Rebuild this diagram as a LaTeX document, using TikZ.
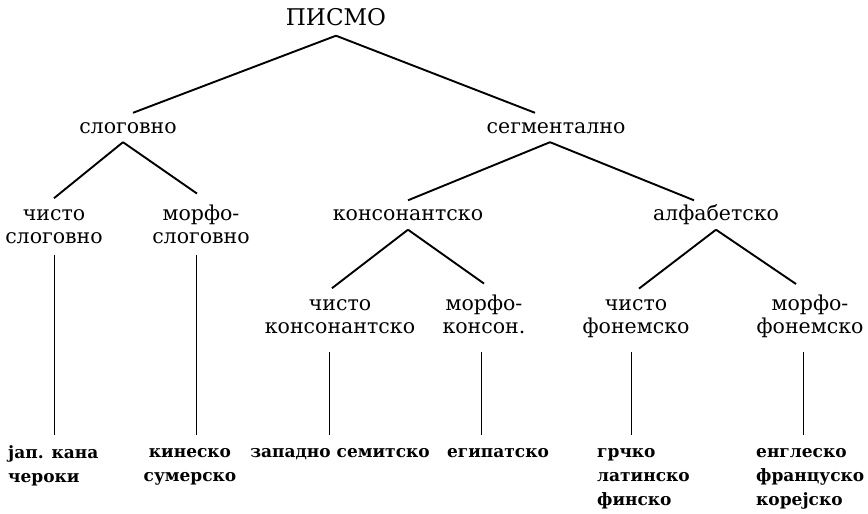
\documentclass[tikz,border=0pt]{standalone}
\usepackage{fontspec}
\setmainfont{DejaVu Serif}
\usepackage{tikz}
\usetikzlibrary{positioning}
\tikzstyle{root} = [inner sep=0pt, inner ysep=10pt, text height=17pt, text depth=0pt, font=\fontsize{23}{27}\selectfont]
\tikzstyle{word} = [inner sep=0pt, inner ysep=9pt, text height=11pt, text depth=0pt, font=\fontsize{20.5}{23}\selectfont]
\tikzstyle{pair} = [inner sep=0pt, inner ysep=11pt, align=center, font=\fontsize{20.5}{23}\selectfont]
\tikzstyle{leaf} = [inner sep=0pt, align=left, font=\fontsize{17}{24}\selectfont\bfseries]
\tikzstyle{branch} = [line width=1.9pt]
\tikzstyle{stem} = [line width=0.8pt, shorten >=13pt]

\begin{document}
\begin{tikzpicture}[x=1pt, y=-1pt]
\useasboundingbox (0,0) rectangle (868,514);
% Tree nodes
\node (pismo) [root] at (336,17) {ПИСМО};
\node (slog) [word] at (128,127.5) {слоговно};
\node (segm) [word] at (556,127.5) {сегментално};
\node (cslog) [pair] at (54,226.5) {чисто\\слоговно};
\node (mslog) [pair] at (201,224.2) {морфо-\\слоговно};
\node (kons) [word] at (408,215) {консонантско};
\node (alf) [word] at (716,215) {алфабетско};
\node (ckons) [pair] at (340,316.5) {чисто\\консонантско};
\node (mkons) [pair] at (484,314.2) {морфо-\\консон.};
\node (cfon) [pair] at (636,318.9) {чисто\\фонемско};
\node (mfon) [pair] at (810,316.6) {морфо-\\фонемско};

% Leaves
\node (kana) [leaf, anchor=north west] at (8,445) {јап. кана\\чероки};
\node (kin) [leaf, align=center, anchor=north] at (190,448) {кинеско\\сумерско};
\node (west) [leaf, anchor=north] at (340,448) {западно семитско};
\node (egip) [leaf, anchor=north] at (498,448) {египатско};
\node (grc) [leaf, anchor=north west] at (597,448) {грчко\\латинско\\финско};
\node (eng) [leaf, anchor=north west] at (756,448) {енглеско\\француско\\корејско};

% Branches
\draw[branch] (pismo.south) -- ([xshift=5pt]slog.north);
\draw[branch] (pismo.south) -- ([xshift=-21pt]segm.north);
\draw[branch] ([xshift=-5pt]slog.south) -- (cslog.north);
\draw[branch] ([xshift=-5pt]slog.south) -- ([xshift=-4pt]mslog.north);
\draw[branch] ([xshift=-6pt]segm.south) -- (kons.north);
\draw[branch] ([xshift=-6pt]segm.south) -- ([xshift=-22pt]alf.north);
\draw[branch] (kons.south) -- ([xshift=-8pt]ckons.north);
\draw[branch] (kons.south) -- (mkons.north);
\draw[branch] (alf.south) -- ([xshift=3pt]cfon.north);
\draw[branch] (alf.south) -- ([xshift=-14pt]mfon.north);

% Stems down to the leaves
\draw[stem] (cslog.south) -- (cslog.south |- west.north);
\draw[stem] ([xshift=-5pt]mslog.south) -- ([xshift=-5pt]mslog.south |- west.north);
\draw[stem, shorten <=7pt] ([xshift=-11pt]ckons.south) -- ([xshift=-11pt]ckons.south |- west.north);
\draw[stem, shorten <=7pt] ([xshift=-3pt]mkons.south) -- ([xshift=-3pt]mkons.south |- west.north);
\draw[stem, shorten <=3pt] ([xshift=-5pt]cfon.south) -- ([xshift=-5pt]cfon.south |- west.north);
\draw[stem, shorten <=3pt] ([xshift=-7pt]mfon.south) -- ([xshift=-7pt]mfon.south |- west.north);
\end{tikzpicture}
\end{document}
